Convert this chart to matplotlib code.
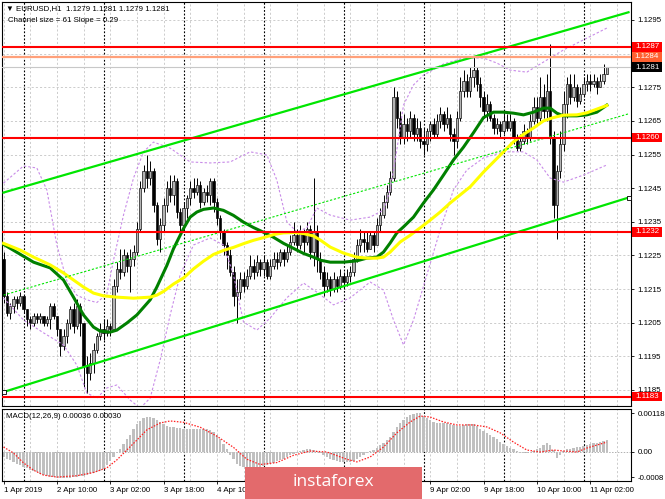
#!/usr/bin/env python3

import numpy as np
import matplotlib.pyplot as plt
from matplotlib.patches import Rectangle

OUT = 'out.png'
W, H = 665, 499

plt.rcParams['font.family'] = ['Liberation Sans', 'DejaVu Sans']

# prices are pips above BASE, macd values are in units of 1e-5
BASE = 1.1000

first_open = 224
close = [213, 208, 210, 212, 211, 213, 209, 206, 205, 207,
         206, 207, 205, 206, 210, 207, 203, 198, 201, 205,
         209, 204, 210, 205, 192, 190, 193, 197, 201, 203,
         202, 204, 203, 216, 221, 220, 225, 222, 224, 226,
         233, 245, 250, 248, 250, 240, 230, 234, 240, 245,
         243, 247, 238, 234, 239, 242, 245, 244, 246, 241,
         244, 243, 247, 241, 236, 232, 228, 225, 220, 213,
         214, 218, 216, 219, 222, 220, 223, 221, 223, 219,
         222, 224, 223, 226, 224, 226, 229, 231, 228, 232,
         229, 233, 226, 232, 224, 220, 216, 218, 215, 218,
         216, 219, 217, 219, 220, 224, 228, 230, 229, 227,
         231, 228, 234, 237, 241, 244, 248, 272, 266, 260,
         264, 262, 266, 261, 263, 259, 258, 262, 264, 261,
         265, 267, 264, 266, 261, 259, 266, 274, 277, 274,
         278, 280, 276, 272, 268, 270, 266, 263, 264, 262,
         265, 263, 265, 260, 257, 259, 262, 260, 265, 269,
         266, 272, 268, 274, 260, 240, 250, 258, 270, 276,
         272, 275, 271, 273, 276, 277, 276, 277, 275, 277,
         279, 281]
high = [226, 214, 211, 213, 213, 214, 213, 209, 207, 208,
        208, 208, 207, 207, 211, 211, 207, 203, 203, 206,
        210, 211, 212, 211, 205, 195, 196, 199, 202, 205,
        206, 206, 205, 218, 223, 227, 227, 226, 227, 228,
        235, 247, 252, 255, 253, 251, 241, 236, 242, 247,
        249, 249, 248, 239, 241, 243, 247, 248, 248, 247,
        245, 246, 248, 248, 242, 237, 233, 229, 227, 222,
        218, 220, 220, 221, 225, 224, 225, 224, 225, 224,
        224, 226, 226, 227, 227, 228, 231, 235, 233, 234,
        233, 235, 234, 248, 234, 226, 222, 220, 219, 220,
        219, 221, 220, 221, 222, 226, 230, 233, 232, 232,
        232, 232, 236, 239, 243, 246, 250, 275, 274, 268,
        267, 266, 268, 267, 266, 265, 263, 263, 265, 266,
        267, 269, 268, 269, 267, 263, 268, 278, 280, 279,
        281, 284, 281, 278, 274, 273, 271, 267, 266, 265,
        267, 267, 267, 266, 261, 261, 264, 263, 267, 272,
        272, 278, 276, 279, 288, 262, 252, 262, 274, 278,
        279, 279, 276, 275, 278, 279, 279, 279, 278, 279,
        282, 281]
low = [211, 207, 206, 208, 209, 210, 208, 204, 203, 204,
       205, 205, 204, 204, 203, 206, 201, 195, 197, 199,
       203, 202, 203, 201, 186, 184, 188, 190, 196, 200,
       200, 201, 201, 203, 214, 218, 219, 220, 214, 222,
       225, 232, 244, 245, 246, 238, 228, 226, 232, 238,
       241, 240, 236, 232, 232, 236, 240, 242, 243, 239,
       240, 241, 240, 238, 234, 230, 225, 221, 219, 210,
       205, 212, 214, 215, 218, 218, 219, 219, 219, 218,
       218, 221, 221, 222, 222, 223, 225, 228, 226, 227,
       226, 228, 224, 222, 220, 218, 213, 214, 213, 214,
       214, 215, 215, 216, 217, 219, 223, 226, 226, 226,
       227, 226, 228, 232, 236, 239, 243, 247, 263, 258,
       258, 259, 260, 259, 259, 257, 255, 256, 259, 260,
       260, 263, 262, 263, 259, 255, 257, 265, 272, 272,
       272, 275, 274, 269, 266, 265, 265, 261, 261, 260,
       261, 262, 262, 258, 256, 256, 258, 258, 259, 264,
       264, 265, 266, 265, 258, 236, 230, 248, 256, 266,
       270, 271, 269, 270, 272, 274, 274, 275, 273, 275,
       276, 279]

# moving averages, sampled along the bars
green_at = [0, 9, 14, 18, 21, 24, 27, 29, 32, 34, 37, 40, 44, 46, 49, 51, 54, 56, 58, 60,
            63, 66, 69, 72, 75, 78, 81, 84, 87, 90, 93, 95, 98, 102, 106, 109, 112, 114, 116, 118,
            120, 123, 126, 129, 132, 135, 138, 141, 144, 147, 150, 153, 156, 159, 162, 164, 166, 168, 172, 175,
            178, 181]
green_ma = [228.3, 223.0, 221.3, 217.7, 212.6, 207.3, 203.7, 202.5, 202.2, 202.8, 204.9, 207.3, 211.8, 215.6, 222.0, 227.0, 233.0, 236.4, 237.9, 238.7,
            239.1, 238.4, 236.9, 234.9, 233.3, 231.9, 230.4, 228.6, 227.1, 225.6, 224.5, 223.6, 223.0, 223.0, 223.4, 224.2, 224.5, 226.0, 228.7, 231.7,
            233.5, 236.4, 240.6, 244.5, 248.9, 253.4, 257.2, 261.5, 266.0, 267.6, 267.6, 267.3, 266.8, 267.6, 268.8, 268.8, 267.3, 266.5, 266.5, 266.8,
            267.6, 269.7]
yellow_at = [0, 5, 9, 14, 18, 21, 24, 27, 30, 34, 39, 44, 46, 48, 51, 54, 57, 60, 63, 66,
             69, 72, 75, 78, 81, 84, 87, 90, 93, 95, 98, 102, 106, 109, 112, 114, 116, 119, 122, 125,
             128, 131, 134, 137, 140, 144, 147, 150, 153, 156, 159, 162, 165, 168, 172, 175, 178, 181]
yellow_ma = [228.6, 226.6, 224.5, 222.2, 219.8, 217.7, 215.6, 213.8, 213.0, 212.6, 212.3, 212.6, 213.2, 214.3, 216.5, 218.3, 221.0, 223.3, 225.3, 226.5,
             227.4, 228.5, 229.5, 230.3, 231.2, 231.7, 231.8, 231.5, 230.8, 229.6, 227.5, 225.7, 224.5, 224.2, 224.2, 224.5, 226.0, 229.0, 231.0, 233.2,
             235.5, 237.9, 240.6, 243.0, 245.4, 249.8, 252.8, 255.8, 258.8, 261.0, 262.9, 265.0, 266.0, 266.7, 266.8, 267.4, 268.5, 269.6]

# bands
ub_at = [0, 6, 10, 13, 16, 19, 22, 25, 28, 31, 33, 36, 39, 42, 45, 50, 56, 62, 68, 74,
         79, 82, 85, 88, 91, 94, 98, 104, 110, 114, 116, 118, 120, 123, 126, 132, 138, 144, 148, 152,
         157, 162, 168, 174, 181]
ub = [246.5, 251.6, 251.0, 244.5, 228.1, 217.5, 213.2, 211.8, 211.0, 213.5, 223.6, 237.0, 248.0, 255.8, 258.7, 256.9, 252.8, 252.5, 252.8, 255.8,
      254.9, 247.4, 235.0, 232.0, 233.2, 239.1, 237.0, 235.5, 236.4, 238.5, 244.5, 256.4, 269.7, 275.7, 278.6, 281.9, 283.7, 283.7, 282.2, 280.1,
      279.5, 282.5, 286.1, 289.1, 292.6]
lb_at = [0, 6, 12, 18, 22, 25, 28, 31, 34, 38, 41, 44, 47, 50, 53, 57, 62, 66, 69, 72,
         76, 80, 85, 90, 94, 99, 104, 110, 114, 117, 120, 123, 127, 131, 135, 139, 144, 150, 156, 160,
         164, 168, 174, 181]
lb = [212.4, 205.8, 202.0, 198.4, 192.4, 184.1, 182.6, 185.6, 186.5, 182.0, 179.6, 182.6, 193.9, 207.3, 219.2, 228.1, 230.2, 228.1, 219.2, 205.2,
      202.8, 206.4, 212.4, 216.8, 214.1, 210.3, 212.4, 217.1, 214.7, 205.8, 198.4, 205.8, 219.2, 232.6, 244.5, 250.4, 254.0, 255.8, 255.8, 253.4,
      248.0, 246.8, 248.9, 251.9]

# regression channel
chan_at = [0, 187.5]
chan_up = [243.7, 297.3]
chan_mid = [213.2, 267.1]
chan_lo = [184.4, 242.2]

red_levels = [1.1287, 1.1260, 1.1232, 1.1183]
orange_level = 1.1284
bid_level = 1.1281

macd_hist = [-15, -20, -25, -30, -35, -40, -45, -50, -55, -58,
             -62, -66, -70, -73, -75, -77, -78, -79, -79, -79,
             -78, -77, -75, -74, -72, -70, -68, -65, -62, -57,
             -52, -40, -28, -15, -2, 10, 25, 38, 52, 70,
             85, 95, 103, 106, 107, 103, 98, 92, 86, 80,
             77, 75, 73, 72, 70, 70, 71, 70, 69, 70,
             70, 69, 68, 62, 50, 38, 25, 8, -10, -22,
             -35, -42, -45, -47, -48, -48, -47, -45, -42, -40,
             -36, -32, -28, -24, -20, -15, -10, -5, -2, 2,
             5, 8, 9, 6, 3, -2, -8, -14, -20, -25,
             -28, -30, -30, -30, -29, -26, -22, -16, -8, -2,
             3, 5, 12, 20, 28, 36, 45, 60, 75, 88,
             97, 105, 112, 116, 118, 117, 110, 104, 98, 92,
             89, 88, 88, 87, 85, 82, 80, 79, 82, 85,
             86, 84, 78, 70, 64, 58, 52, 45, 38, 30,
             24, 18, 13, 9, 4, -2, -4, -3, 0, 4,
             8, 12, 20, 27, 22, 5, -18, -8, 3, 8,
             10, 12, 14, 15, 18, 20, 24, 27, 28, 30,
             33, 36]
sig_at = [0, 3, 6, 9, 12, 16, 22, 27, 31, 34, 37, 40, 43, 47, 50, 54, 59, 64, 69, 73,
          77, 82, 87, 92, 97, 103, 106, 110, 114, 118, 122, 125, 128, 132, 136, 141, 145, 149, 153, 157,
          161, 165, 168, 172, 175, 178, 181]
macd_sig = [15, -3, -33, -55, -70, -76, -72, -62, -48, -24, 6, 36, 67, 88, 94, 90, 75, 48, 14, -22,
            -38, -32, -10, 3, 0, -22, -30, -15, 15, 58, 91, 109, 106, 91, 82, 82, 76, 58, 30, 6,
            0, 6, 3, 0, 12, 21, 30]

price_ticks = [1.1185, 1.1195, 1.1205, 1.1215, 1.1225, 1.1235, 1.1245, 1.1255, 1.1265, 1.1275, 1.1285, 1.1295]
# 1.1285 sits under the level tags
price_labels = ['1.1185', '1.1195', '1.1205', '1.1215', '1.1225', '1.1235', '1.1245', '1.1255', '1.1265', '1.1275', '', '1.1295']
macd_ticks = [0.00118, 0.0, -0.00076]
macd_labels = ['0.00118', '0.00', '-0.0008']
time_at = [0, 16, 32, 48, 64, 80, 96, 112, 128, 144, 160, 176]
# three labels are hidden by the watermark in the original
time_labels = ['1 Apr 2019', '2 Apr 10:00', '3 Apr 02:00', '3 Apr 18:00', '4 Apr 10:00', '',
               '', '', '9 Apr 02:00', '9 Apr 18:00', '10 Apr 10:00', '11 Apr 02:00']
day_at = [6, 30, 54, 78, 102, 126, 150, 174]

FS = 5.7


def pr(v):
	return BASE + np.asarray(v, dtype=float) / 10000.0


def tag(ax, y, fc):
	ylo, yhi = ax.get_ylim()
	fy = (y - ylo) / (yhi - ylo)
	h = 9.5 / 404
	x0, x1 = 630 / 629, 660 / 629
	ax.add_patch(Rectangle((x0, fy - h / 2), x1 - x0, h, transform=ax.transAxes,
	                       fc=fc, ec='none', clip_on=False, zorder=10))
	ax.text((x0 + x1) / 2, fy, f'{y:.4f}', transform=ax.transAxes, color='white',
	        fontsize=FS, ha='center', va='center', zorder=11, clip_on=False)


def grid(ax, horiz):
	for g in range(0, 189, 8):
		ax.axvline(g, color='#c4c4c4', lw=0.6, dashes=(2.5, 2.5), zorder=0)
	for d in day_at:
		ax.axvline(d, color='black', lw=0.8, dashes=(1.6, 1.6), zorder=0.5)
	for h in horiz:
		ax.axhline(h, color='#c4c4c4', lw=0.6, dashes=(2.5, 2.5), zorder=0)


def plot():
	assert len(close) == len(high) == len(low) == len(macd_hist) == 182

	fig = plt.figure(figsize=(W / 100, H / 100), dpi=100)
	ax = fig.add_axes([2 / W, 1 - 406 / H, 629 / W, 404 / H])
	ax2 = fig.add_axes([2 / W, 1 - 481 / H, 629 / W, 72 / H])

	idx = np.arange(len(close))
	c = np.array(close, dtype=float)
	o = np.array([first_open] + close[:-1], dtype=float)
	up = c >= o
	lo_b = np.minimum(o, c)
	hgt = np.maximum(np.abs(c - o), 0.35)

	ax.set_xlim(-0.45, 188.25)
	ax.set_ylim(1.118024, 1.130035)
	grid(ax, price_ticks)

	ax.vlines(idx, pr(low), pr(high), color='black', lw=0.7, zorder=2)
	ax.bar(idx[up], hgt[up] / 10000, bottom=pr(lo_b[up]), width=0.62, color='#b4b4b4',
	       edgecolor='black', linewidth=0.45, zorder=2.1)
	ax.bar(idx[~up], hgt[~up] / 10000, bottom=pr(lo_b[~up]), width=0.62, color='black',
	       edgecolor='black', linewidth=0.45, zorder=2.1)

	ax.plot(ub_at, pr(ub), color='#c88be8', lw=0.8, dashes=(2.2, 1.8), zorder=3)
	ax.plot(lb_at, pr(lb), color='#c88be8', lw=0.8, dashes=(2.2, 1.8), zorder=3)

	ax.plot(green_at, pr(green_ma), color='#008000', lw=2.2, solid_joinstyle='round', zorder=4)
	ax.plot(yellow_at, pr(yellow_ma), color='#ffff00', lw=2.2, solid_joinstyle='round', zorder=4.1)

	ax.plot(chan_at, pr(chan_up), color='#00e600', lw=1.6, zorder=5)
	ax.plot(chan_at, pr(chan_lo), color='#00e600', lw=1.6, zorder=5)
	ax.plot(chan_at, pr(chan_mid), color='#00e600', lw=0.8, dashes=(2, 1.6), zorder=5)
	ax.plot(chan_at, pr(chan_lo), ls='none', marker='s', ms=2.6, mfc='white', mec='black',
	        mew=0.6, zorder=5.5, clip_on=False)

	for lv in red_levels:
		ax.axhline(lv, color='#ff0000', lw=1.5, zorder=5)
	ax.axhline(orange_level, color='#ffa07a', lw=1.6, zorder=5)
	ax.axhline(bid_level, color='#c8c8c8', lw=0.8, zorder=5)

	ax.set_xticks([])
	ax.yaxis.tick_right()
	ax.set_yticks(price_ticks)
	ax.set_yticklabels(price_labels)
	ax.tick_params(axis='y', length=2.5, width=0.6, pad=2, labelsize=FS)

	for lv in red_levels:
		tag(ax, lv, '#ff0000')
	tag(ax, orange_level, '#ff6030')
	tag(ax, bid_level, 'black')

	# macd panel
	ax2.set_xlim(-0.45, 188.25)
	ax2.set_ylim(-0.000879, 0.001303)
	grid(ax2, [])
	ax2.axhline(0, color='#b0b0b0', lw=0.7, dashes=(1.5, 1.5), zorder=0.6)
	ax2.bar(idx, np.array(macd_hist) * 1e-5, width=0.62, color='#c0c0c0', zorder=2)
	ax2.plot(sig_at, np.array(macd_sig) * 1e-5, color='#ff2020', lw=0.9, dashes=(1.2, 1.2), zorder=3)

	ax2.yaxis.tick_right()
	ax2.set_yticks(macd_ticks)
	ax2.set_yticklabels(macd_labels)
	ax2.tick_params(axis='y', length=2.5, width=0.6, pad=2, labelsize=FS)
	ax2.set_xticks(time_at)
	ax2.set_xticklabels(time_labels, ha='left')
	ax2.tick_params(axis='x', length=2, width=0.6, pad=2, labelsize=FS)

	for a in (ax, ax2):
		for s in a.spines.values():
			s.set_linewidth(0.8)
			s.set_color('black')

	fig.text(6.5 / W, 1 - 9 / H, '\u25bc EURUSD,H1  1.1279 1.1281 1.1279 1.1281', fontsize=FS, va='center')
	fig.text(8 / W, 1 - 20 / H, 'Channel size = 61 Slope = 0.29', fontsize=FS, va='center')
	fig.text(6 / W, 1 - 417 / H, 'MACD(12,26,9) 0.00036 0.00030', fontsize=FS, va='center')

	# watermark
	fig.add_artist(Rectangle((245 / W, 0), 177 / W, 32 / H, transform=fig.transFigure,
	                         fc='#e36a6c', ec='none', zorder=20))
	fig.text(333 / W, 1 - 482.5 / H, 'instaforex', color='white', fontsize=12.5,
	         family=['Open Sans', 'DejaVu Sans'], ha='center', va='center', zorder=21)

	fig.savefig(OUT, dpi=100)


if __name__ == '__main__':
	plot()
